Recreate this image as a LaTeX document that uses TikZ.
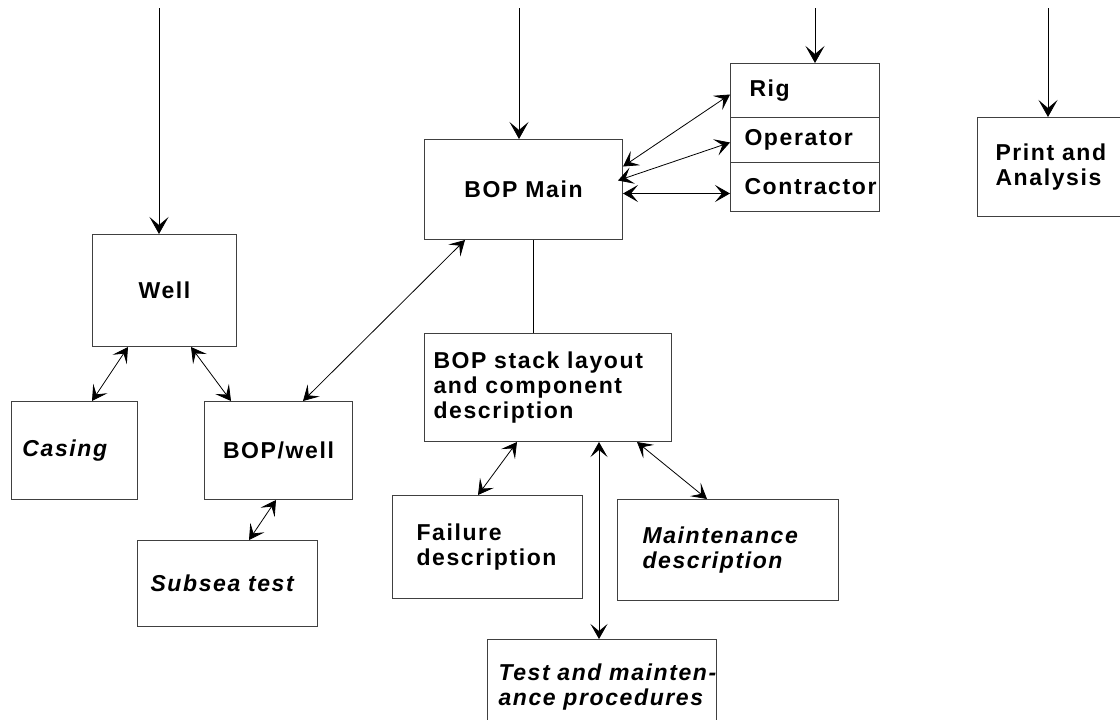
\documentclass[tikz,border=0pt]{standalone}
\usepackage{fontspec}
\setmainfont{Liberation Sans}[LetterSpace=7]
\usetikzlibrary{arrows.meta}
\newcommand\boxfont{\fontsize{23}{25}\selectfont\bfseries}
\tikzset{
  box/.style={draw=black!75, line width=1pt, anchor=north west, inner sep=0pt, font=\boxfont},
  cbox/.style={box, align=center},
  lbox/.style={box, align=left},
  slant/.style={font=\boxfont\itshape},
  link/.style={{Stealth[length=15pt,width=17pt,inset=7pt]}-{Stealth[length=15pt,width=17pt,inset=7pt]}, line width=0.8pt},
  feed/.style={-{Stealth[length=17pt,width=19pt,inset=8pt]}, line width=0.8pt}
}
\begin{document}
\begin{tikzpicture}[x=1pt,y=-1pt]
\useasboundingbox (0,0) rectangle (1120,720);
\node[cbox, minimum width=144pt, minimum height=112pt] (well) at (92,234) {Well};
\node[lbox, slant, text width=104pt, inner xsep=11pt, minimum height=98pt] (casing) at (11,401) {Casing};
\node[cbox, minimum width=148pt, minimum height=98pt] (bopwell) at (204,401) {BOP/well};
\node[lbox, slant, text width=154pt, inner xsep=13pt, minimum height=86pt] (subsea) at (137,540) {Subsea test};
\node[cbox, minimum width=198pt, minimum height=100pt] (main) at (424,139) {BOP Main};
\node[lbox, text width=111pt, inner xsep=19pt, minimum height=54pt] (rig) at (730,63) {Rig};
\node[lbox, text width=121pt, inner xsep=14pt, minimum height=45pt] (oper) at (730,117) {Operator};
\node[lbox, text width=121pt, inner xsep=14pt, minimum height=49pt] (contr) at (730,162) {Contractor};
\node[lbox, text width=124pt, inner xsep=18pt, minimum height=99pt] (print) at (977,117) {Print and\\Analysis};
\node[lbox, text width=229pt, inner xsep=9pt, minimum height=108pt] (stack) at (424,333)
  {BOP stack layout\\and component\\description};
\node[lbox, text width=142pt, inner xsep=24pt, minimum height=103pt] (failure) at (392,495) {Failure\\description};
\node[lbox, slant, text width=171pt, inner xsep=25pt, minimum height=101pt] (maint) at (617,499) {Maintenance\\description};
\node[lbox, slant, text width=207pt, inner xsep=11pt, minimum height=95pt] (test) at (487,639)
  {\mbox{Test and mainten-}\\ance procedures};

\coordinate (inWell) at (159,8);
\coordinate (inMain) at (519,8);
\coordinate (inRig) at (815,8);
\coordinate (inPrint) at (1048,8);
\draw[feed] (inWell) -- (inWell |- well.north);
\draw[feed] (inMain) -- (inMain |- main.north);
\draw[feed] (inRig) -- (inRig |- rig.north);
\draw[feed] (inPrint) -- (inPrint |- print.north);

\draw[link] ([xshift=36pt]well.south west) -- ([xshift=81pt]casing.north west);
\draw[link] ([xshift=99pt]well.south west) -- ([xshift=27pt]bopwell.north west);
\draw[link] ([xshift=99pt]bopwell.north west) -- ([xshift=41pt]main.south west);
\draw[link] ([xshift=72pt]bopwell.south west) -- ([xshift=112pt]subsea.north west);
\draw[link] ([yshift=23pt]main.east) -- ([yshift=-4pt]rig.west);
\draw[link] ([xshift=-5pt,yshift=9pt]main.east) -- ([yshift=-2.5pt]oper.west);
\draw[link] ([yshift=-4pt]main.east) -- ([yshift=-6.5pt]contr.west);

\coordinate (mainDown) at ([xshift=10pt]main.south);
\draw[line width=0.8pt] (mainDown) -- (mainDown |- stack.north);
\coordinate (stackTest) at ([xshift=175pt]stack.south west);
\draw[link] ([xshift=93pt]stack.south west) -- ([xshift=86pt]failure.north west);
\draw[link] (stackTest) -- (stackTest |- test.north);
\draw[link] ([xshift=213pt]stack.south west) -- ([xshift=90pt]maint.north west);
\end{tikzpicture}
\end{document}
